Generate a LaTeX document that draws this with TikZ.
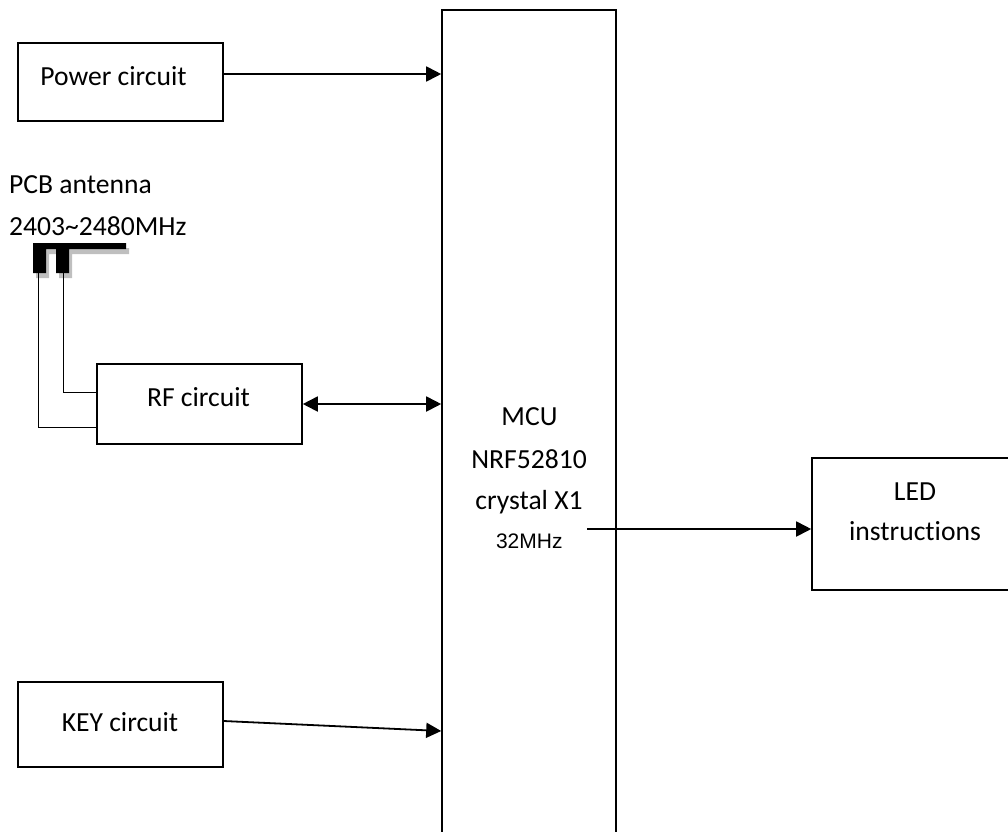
\documentclass[tikz,border=0pt]{standalone}
\usepackage{fontspec}
\setmainfont[Ligatures={NoCommon,NoRequired,NoContextual}]{Carlito}
\newfontfamily\arialf{Liberation Sans}
\usetikzlibrary{arrows.meta}
\tikzset{
  box/.style={draw, line width=1.6pt, inner sep=0pt, rectangle},
  lbl/.style={anchor=base, inner sep=0pt, font=\fontsize{27.6}{32}\selectfont},
  lblw/.style={anchor=base west, inner sep=0pt, font=\fontsize{27.6}{32}\selectfont},
  arr/.style={line width=1.8pt, -{Triangle[length=15pt,width=15pt]}},
  darr/.style={line width=1.8pt, {Triangle[length=15pt,width=15pt]}-{Triangle[length=15pt,width=15pt]}},
  wire/.style={line width=1pt},
}
\begin{document}
\begin{tikzpicture}[x=1pt,y=-1pt]
\useasboundingbox (0,0) rectangle (1008,831);
\clip (0,0) rectangle (1008,831);
% boxes
\node[box, minimum width=205pt, minimum height=78pt] (pw) at (120.5,82) {};
\node[box, minimum width=205pt, minimum height=80pt] (rf) at (199.5,404) {};
\node[box, minimum width=205pt, minimum height=85pt] (key) at (120.5,724.5) {};
\node[box, minimum width=174pt, minimum height=830pt] (mcu) at (529,425) {};
\node[box, minimum width=208pt, minimum height=132pt] (led) at (916,524) {};
% labels
\node[lbl] (tpw) at (113.5,85) {Power circuit};
\node[lblw] (tpcb) at (9,193) {PCB antenna};
\node[lblw] (tfreq) at (9,235) {2403\textasciitilde2480MHz};
\node[lbl] (trf) at (198.5,406) {RF circuit};
\node[lbl] (tmcu) at (529.5,425.5) {MCU};
\node[lbl] (tnrf) at (529,468) {NRF52810};
\node[lbl] (tcry) at (529,509) {crystal X1};
\node[anchor=base, inner sep=0pt, font=\arialf\fontsize{21}{25}\selectfont] (tmhz) at (529.3,548) {32MHz};
\node[lbl] (tled) at (915,500.7) {LED};
\node[lbl] (tins) at (915,540.7) {instruct\kern0pt ions};
\node[lbl] (tkey) at (120,731.7) {KEY circuit};
% antenna
\fill[black!25] (36,248) -- (129,248) -- (129,254) -- (72,254) -- (72,278) -- (59,278) -- (59,254) -- (49,254) -- (49,278) -- (36,278) -- cycle;
\fill[black] (33,243) -- (126,243) -- (126,249) -- (69,249) -- (69,273) -- (56,273) -- (56,249) -- (46,249) -- (46,273) -- (33,273) -- cycle;
\coordinate (legL) at (38,273);
\coordinate (legR) at (63,273);
\draw[wire] (legL) |- ([yshift=-23pt]rf.west);
\draw[wire] (legR) |- ([yshift=12pt]rf.west);
% connectors
\coordinate (p1) at ([yshift=8pt]pw.east);
\draw[arr] (p1) -- (p1 -| mcu.west);
\draw[darr] (rf.east) -- (rf.east -| mcu.west);
\coordinate (ledsrc) at (587,529);
\draw[arr] (ledsrc) -- (ledsrc -| led.west);
\coordinate (k1) at ([yshift=3.5pt]key.east);
\coordinate (ky) at (0,731);
\draw[arr] (k1) -- (mcu.west |- ky);
\end{tikzpicture}
\end{document}
